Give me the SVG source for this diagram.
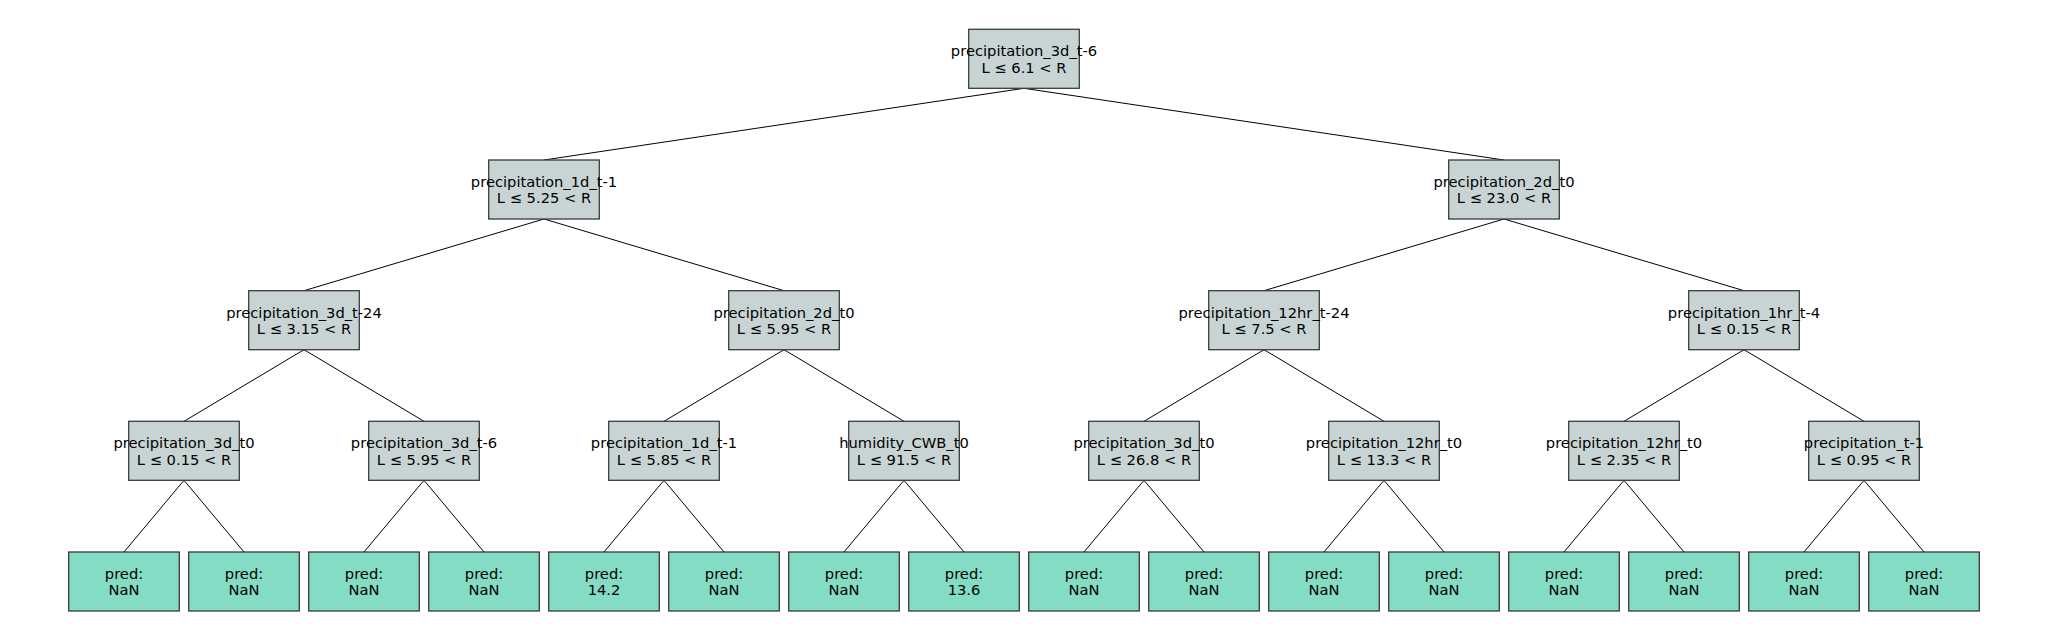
<svg xmlns="http://www.w3.org/2000/svg" width="2048" height="640" viewBox="0 0 2048 640">
<style>
.bg{fill:#ffffff}
.split rect{fill:#c8d4d4;stroke:#3a3a3a;stroke-width:1.3}
.leaf rect{fill:#85dcc5;stroke:#3a3a3a;stroke-width:1.3}
text{font-family:"DejaVu Sans","Liberation Sans",sans-serif;font-size:14.7px;fill:#000;text-anchor:middle}
#edges line{stroke:#000;stroke-width:1}
</style>
<rect class="bg" x="0" y="0" width="2048" height="640"/>
<g id="edges">
<line x1="1024" y1="88.3" x2="544" y2="160"/>
<line x1="1024" y1="88.3" x2="1504" y2="160"/>
<line x1="544" y1="219" x2="304" y2="290.7"/>
<line x1="544" y1="219" x2="784" y2="290.7"/>
<line x1="1504" y1="219" x2="1264" y2="290.7"/>
<line x1="1504" y1="219" x2="1744" y2="290.7"/>
<line x1="304" y1="349.7" x2="184" y2="421.3"/>
<line x1="304" y1="349.7" x2="424" y2="421.3"/>
<line x1="784" y1="349.7" x2="664" y2="421.3"/>
<line x1="784" y1="349.7" x2="904" y2="421.3"/>
<line x1="1264" y1="349.7" x2="1144" y2="421.3"/>
<line x1="1264" y1="349.7" x2="1384" y2="421.3"/>
<line x1="1744" y1="349.7" x2="1624" y2="421.3"/>
<line x1="1744" y1="349.7" x2="1864" y2="421.3"/>
<line x1="184" y1="480.3" x2="124" y2="552"/>
<line x1="184" y1="480.3" x2="244" y2="552"/>
<line x1="424" y1="480.3" x2="364" y2="552"/>
<line x1="424" y1="480.3" x2="484" y2="552"/>
<line x1="664" y1="480.3" x2="604" y2="552"/>
<line x1="664" y1="480.3" x2="724" y2="552"/>
<line x1="904" y1="480.3" x2="844" y2="552"/>
<line x1="904" y1="480.3" x2="964" y2="552"/>
<line x1="1144" y1="480.3" x2="1084" y2="552"/>
<line x1="1144" y1="480.3" x2="1204" y2="552"/>
<line x1="1384" y1="480.3" x2="1324" y2="552"/>
<line x1="1384" y1="480.3" x2="1444" y2="552"/>
<line x1="1624" y1="480.3" x2="1564" y2="552"/>
<line x1="1624" y1="480.3" x2="1684" y2="552"/>
<line x1="1864" y1="480.3" x2="1804" y2="552"/>
<line x1="1864" y1="480.3" x2="1924" y2="552"/>
</g>
<g id="n0" class="split"><rect x="968.7" y="29.3" width="110.6" height="59"/><text x="1024" y="56.1">precipitation_3d_t-6</text><text x="1024" y="72.6">L ≤ 6.1 &lt; R</text></g>
<g id="n1" class="split"><rect x="488.7" y="160" width="110.6" height="59"/><text x="544" y="186.8">precipitation_1d_t-1</text><text x="544" y="203.3">L ≤ 5.25 &lt; R</text></g>
<g id="n2" class="split"><rect x="1448.7" y="160" width="110.6" height="59"/><text x="1504" y="186.8">precipitation_2d_t0</text><text x="1504" y="203.3">L ≤ 23.0 &lt; R</text></g>
<g id="n3" class="split"><rect x="248.7" y="290.7" width="110.6" height="59"/><text x="304" y="317.5">precipitation_3d_t-24</text><text x="304" y="334">L ≤ 3.15 &lt; R</text></g>
<g id="n4" class="split"><rect x="728.7" y="290.7" width="110.6" height="59"/><text x="784" y="317.5">precipitation_2d_t0</text><text x="784" y="334">L ≤ 5.95 &lt; R</text></g>
<g id="n5" class="split"><rect x="1208.7" y="290.7" width="110.6" height="59"/><text x="1264" y="317.5">precipitation_12hr_t-24</text><text x="1264" y="334">L ≤ 7.5 &lt; R</text></g>
<g id="n6" class="split"><rect x="1688.7" y="290.7" width="110.6" height="59"/><text x="1744" y="317.5">precipitation_1hr_t-4</text><text x="1744" y="334">L ≤ 0.15 &lt; R</text></g>
<g id="n7" class="split"><rect x="128.7" y="421.3" width="110.6" height="59"/><text x="184" y="448.1">precipitation_3d_t0</text><text x="184" y="464.6">L ≤ 0.15 &lt; R</text></g>
<g id="n8" class="split"><rect x="368.7" y="421.3" width="110.6" height="59"/><text x="424" y="448.1">precipitation_3d_t-6</text><text x="424" y="464.6">L ≤ 5.95 &lt; R</text></g>
<g id="n9" class="split"><rect x="608.7" y="421.3" width="110.6" height="59"/><text x="664" y="448.1">precipitation_1d_t-1</text><text x="664" y="464.6">L ≤ 5.85 &lt; R</text></g>
<g id="n10" class="split"><rect x="848.7" y="421.3" width="110.6" height="59"/><text x="904" y="448.1">humidity_CWB_t0</text><text x="904" y="464.6">L ≤ 91.5 &lt; R</text></g>
<g id="n11" class="split"><rect x="1088.7" y="421.3" width="110.6" height="59"/><text x="1144" y="448.1">precipitation_3d_t0</text><text x="1144" y="464.6">L ≤ 26.8 &lt; R</text></g>
<g id="n12" class="split"><rect x="1328.7" y="421.3" width="110.6" height="59"/><text x="1384" y="448.1">precipitation_12hr_t0</text><text x="1384" y="464.6">L ≤ 13.3 &lt; R</text></g>
<g id="n13" class="split"><rect x="1568.7" y="421.3" width="110.6" height="59"/><text x="1624" y="448.1">precipitation_12hr_t0</text><text x="1624" y="464.6">L ≤ 2.35 &lt; R</text></g>
<g id="n14" class="split"><rect x="1808.7" y="421.3" width="110.6" height="59"/><text x="1864" y="448.1">precipitation_t-1</text><text x="1864" y="464.6">L ≤ 0.95 &lt; R</text></g>
<g id="leaf1" class="leaf"><rect x="68.7" y="552" width="110.6" height="59"/><text x="124" y="578.8">pred:</text><text x="124" y="595.3">NaN</text></g>
<g id="leaf2" class="leaf"><rect x="188.7" y="552" width="110.6" height="59"/><text x="244" y="578.8">pred:</text><text x="244" y="595.3">NaN</text></g>
<g id="leaf3" class="leaf"><rect x="308.7" y="552" width="110.6" height="59"/><text x="364" y="578.8">pred:</text><text x="364" y="595.3">NaN</text></g>
<g id="leaf4" class="leaf"><rect x="428.7" y="552" width="110.6" height="59"/><text x="484" y="578.8">pred:</text><text x="484" y="595.3">NaN</text></g>
<g id="leaf5" class="leaf"><rect x="548.7" y="552" width="110.6" height="59"/><text x="604" y="578.8">pred:</text><text x="604" y="595.3">14.2</text></g>
<g id="leaf6" class="leaf"><rect x="668.7" y="552" width="110.6" height="59"/><text x="724" y="578.8">pred:</text><text x="724" y="595.3">NaN</text></g>
<g id="leaf7" class="leaf"><rect x="788.7" y="552" width="110.6" height="59"/><text x="844" y="578.8">pred:</text><text x="844" y="595.3">NaN</text></g>
<g id="leaf8" class="leaf"><rect x="908.7" y="552" width="110.6" height="59"/><text x="964" y="578.8">pred:</text><text x="964" y="595.3">13.6</text></g>
<g id="leaf9" class="leaf"><rect x="1028.7" y="552" width="110.6" height="59"/><text x="1084" y="578.8">pred:</text><text x="1084" y="595.3">NaN</text></g>
<g id="leaf10" class="leaf"><rect x="1148.7" y="552" width="110.6" height="59"/><text x="1204" y="578.8">pred:</text><text x="1204" y="595.3">NaN</text></g>
<g id="leaf11" class="leaf"><rect x="1268.7" y="552" width="110.6" height="59"/><text x="1324" y="578.8">pred:</text><text x="1324" y="595.3">NaN</text></g>
<g id="leaf12" class="leaf"><rect x="1388.7" y="552" width="110.6" height="59"/><text x="1444" y="578.8">pred:</text><text x="1444" y="595.3">NaN</text></g>
<g id="leaf13" class="leaf"><rect x="1508.7" y="552" width="110.6" height="59"/><text x="1564" y="578.8">pred:</text><text x="1564" y="595.3">NaN</text></g>
<g id="leaf14" class="leaf"><rect x="1628.7" y="552" width="110.6" height="59"/><text x="1684" y="578.8">pred:</text><text x="1684" y="595.3">NaN</text></g>
<g id="leaf15" class="leaf"><rect x="1748.7" y="552" width="110.6" height="59"/><text x="1804" y="578.8">pred:</text><text x="1804" y="595.3">NaN</text></g>
<g id="leaf16" class="leaf"><rect x="1868.7" y="552" width="110.6" height="59"/><text x="1924" y="578.8">pred:</text><text x="1924" y="595.3">NaN</text></g>
</svg>
